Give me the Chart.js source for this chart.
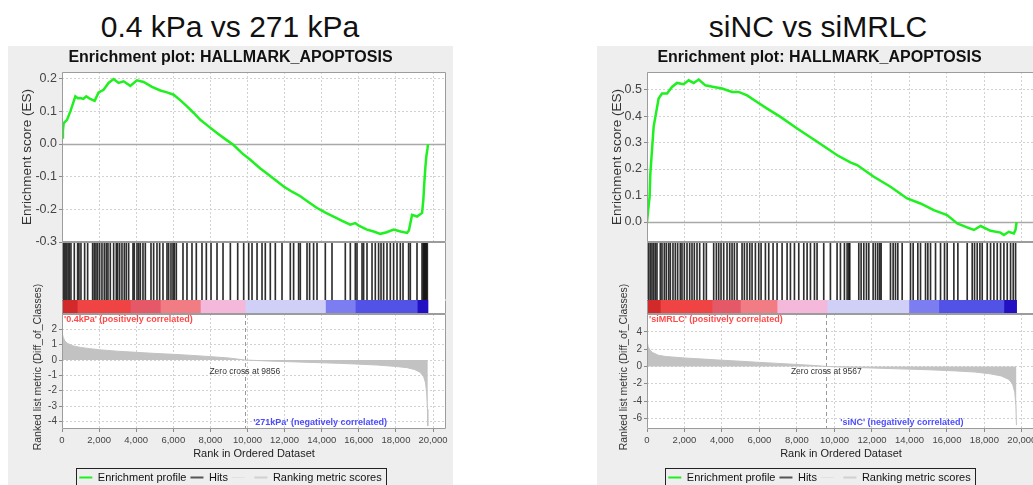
<!DOCTYPE html>
<html>
<head>
<meta charset="utf-8">
<title>HALLMARK_APOPTOSIS enrichment plots</title>
<script src="https://cdn.jsdelivr.net/npm/chart.js@4.4.1/dist/chart.umd.min.js"></script>
<style>
  html, body { margin: 0; padding: 0; width: 1033px; height: 485px; overflow: hidden; background: #ffffff; }
  .heading { position: absolute; top: 7px; width: 460px; text-align: center; font: 30px "Liberation Sans", Arial, sans-serif; color: #111; line-height: 40px; }
  .panel { position: absolute; background: #eeeeee; }
  canvas { position: absolute; }
</style>
</head>
<body>
<div class="heading" style="left:0px">0.4 kPa vs 271 kPa</div>
<div class="heading" style="left:588px">siNC vs siMRLC</div>
<div class="panel" style="left:8px;top:46px;width:445px;height:439px"></div>
<div class="panel" style="left:597px;top:46px;width:436px;height:439px"></div>
<canvas id="esA"></canvas><canvas id="hitsA"></canvas><canvas id="bandA"></canvas><canvas id="metricA"></canvas>
<canvas id="esB"></canvas><canvas id="hitsB"></canvas><canvas id="bandB"></canvas><canvas id="metricB"></canvas>
<script>
const FONT = '"Liberation Sans", Arial, sans-serif';

// ---------- shared rank axis ----------
const rankTicks = [0, 2000, 4000, 6000, 8000, 10000, 12000, 14000, 16000, 18000, 20000];
const rankEnd = 20700;

// ---------- 0.4 kPa vs 271 kPa ----------
const esRankA = [0, 50, 90, 270, 450, 600, 720, 850, 990, 1150, 1310, 1525, 1760, 1975, 2240, 2510, 2780, 3050, 3320, 3680,
  4040, 4400, 4850, 5300, 5660, 6020, 6400, 6740, 7100, 7455, 7900, 8355, 8800, 9250, 9700, 10150, 10690, 11050, 11500, 11950,
  12400, 12850, 13300, 13750, 14200, 14640, 15100, 15540, 15810, 16000, 16440, 16800, 17160, 17500, 17880, 18250, 18600, 18700,
  18870, 19140, 19410, 19480, 19530, 19590, 19640, 19700, 19730];
const esScoreA = [0.02, 0.04, 0.064, 0.074, 0.10, 0.125, 0.146, 0.14, 0.141, 0.138, 0.146, 0.138, 0.132, 0.158, 0.166, 0.187, 0.199, 0.187, 0.192, 0.178,
  0.195, 0.19, 0.175, 0.164, 0.158, 0.151, 0.133, 0.115, 0.095, 0.074, 0.054, 0.034, 0.015, -0.003, -0.028, -0.048, -0.075, -0.09, -0.11, -0.13,
  -0.146, -0.16, -0.178, -0.196, -0.21, -0.222, -0.235, -0.247, -0.242, -0.25, -0.262, -0.268, -0.275, -0.27, -0.262, -0.268, -0.272, -0.265,
  -0.217, -0.222, -0.211, -0.17, -0.12, -0.07, -0.038, -0.015, 0.0];
const hitRankA = [88, 160, 232, 322, 394, 483, 663, 843, 915, 1022, 1220, 1382, 1651, 1741, 1831, 1921, 2029, 2154, 2280, 2388,
  2478, 2604, 2784, 2927, 2999, 3107, 3233, 3359, 3467, 3592, 3826, 3898, 4042, 4132, 4222, 4365, 4491, 4797, 4940, 5120,
  5264, 5444, 5659, 5749, 5875, 5983, 6054, 6162, 6522, 6737, 7007, 7240, 7546, 7780, 8033, 8356, 8680, 9075, 9471, 9794,
  10064, 10243, 10514, 10782, 10959, 11229, 11499, 11860, 12307, 12485, 12755, 12846, 13208, 13348, 13563, 13747, 14194, 14555,
  15272, 15542, 15811, 15903, 16173, 16259, 16442, 16712, 16889, 17067, 17197, 17337, 17520, 17698, 17876, 18059, 18237, 18383,
  18685, 18776, 19137, 19407, 19477, 19531, 19585, 19639, 19693];
const metricRankA = [0, 20, 60, 150, 300, 600, 1000, 1500, 2000, 3000, 4000, 5000, 6000, 7000, 8000, 9000, 9856,
  11000, 12000, 13000, 14000, 15000, 16000, 17000, 18000, 18600, 19000, 19300, 19500, 19600, 19660, 19700, 19720];
const metricValueA = [2.1, 1.75, 1.5, 1.25, 1.08, 0.92, 0.82, 0.74, 0.67, 0.57, 0.5, 0.43, 0.37, 0.3, 0.22, 0.13, 0,
  -0.06, -0.1, -0.14, -0.18, -0.22, -0.27, -0.33, -0.42, -0.5, -0.62, -0.8, -1.1, -1.5, -2.2, -3.2, -4.3];
const bandEdgeA = [0, 820, 3680, 5300, 7460, 9880, 14200, 15810, 19150, 19730];
const esTickA = [-0.3, -0.2, -0.1, 0, 0.1, 0.2];
const metricTickA = [-4, -3, -2, -1, 0, 1, 2];
const zeroCrossA = 9856;

// ---------- siNC vs siMRLC ----------
const esRankB = [0, 100, 140, 175, 265, 355, 480, 620, 800, 1070, 1335, 1600, 1955, 2225, 2490, 2760, 3115, 3560, 4005, 4540,
  4890, 5340, 5870, 6410, 7120, 8010, 9080, 10150, 10850, 11210, 12100, 12990, 13880, 14590, 15300, 16010, 16550, 17080,
  17440, 17800, 18330, 18860, 19040, 19300, 19570, 19660, 19720];
const esScoreB = [0.0, 0.07, 0.095, 0.18, 0.27, 0.36, 0.41, 0.466, 0.485, 0.485, 0.51, 0.525, 0.52, 0.535, 0.525, 0.538, 0.516, 0.51, 0.504, 0.491,
  0.491, 0.478, 0.453, 0.428, 0.397, 0.353, 0.303, 0.252, 0.225, 0.215, 0.171, 0.133, 0.089, 0.07, 0.045, 0.026, -0.005, -0.02,
  -0.03, -0.015, -0.033, -0.04, -0.049, -0.037, -0.043, -0.03, 0.0];
const hitRankB = [87, 176, 265, 354, 443, 532, 710, 799, 924, 1030, 1155, 1244, 1386, 1511, 1635, 1777, 1866, 1991, 2134, 2276,
  2401, 2525, 2668, 2810, 3024, 3166, 3558, 3700, 3825, 3949, 4092, 4270, 4412, 4537, 4662, 4804, 5071, 5196, 5338, 5481,
  5605, 5783, 5961, 6086, 6317, 6495, 6726, 6940, 7207, 7474, 7652, 7866, 8097, 8364, 8542, 8720, 8934, 9073, 9429, 9785,
  10141, 10319, 10533, 10676, 10764, 10818, 11299, 11423, 11566, 11708, 11833, 12064, 12189, 12313, 12420, 12491, 12990, 13132,
  13257, 13381, 13613, 14058, 14200, 14449, 14592, 14859, 14983, 15126, 15393, 15660, 15873, 16015, 16371, 16585, 17083, 17350,
  17475, 17617, 17760, 17884, 18151, 18329, 18507, 18685, 18863, 19041, 19219, 19397, 19540, 19664];
const metricRankB = [0, 20, 60, 150, 300, 600, 1000, 2000, 3000, 4000, 5000, 6000, 7000, 8000, 9000, 9567,
  10500, 12000, 13500, 15000, 16500, 17500, 18300, 18900, 19300, 19500, 19620, 19680, 19710];
const metricValueB = [3.6, 2.8, 2.3, 1.9, 1.6, 1.3, 1.15, 0.98, 0.85, 0.72, 0.6, 0.47, 0.35, 0.23, 0.1, 0,
  -0.07, -0.18, -0.28, -0.38, -0.52, -0.65, -0.85, -1.1, -1.5, -2.0, -3.0, -4.5, -6.8];
const bandEdgeB = [0, 710, 3470, 4980, 6940, 9610, 13970, 15570, 19040, 19720];
const esTickB = [0, 0.1, 0.2, 0.3, 0.4, 0.5];
const metricTickB = [-6, -4, -2, 0, 2, 4];
const zeroCrossB = 9567;

// colour bar shades, from the positive (red) end to the negative (blue) end
const bandShades = ['#d22a2a', '#f04343', '#e55868', '#f27c84', '#f4b8da', '#cfcff8', '#7d7df2', '#5252e6', '#2210c2'];
const esGreen = '#1ff01f';

// ---------- helpers ----------
function canvasAt(id, left, top, width, height) {
  const c = document.getElementById(id);
  c.width = width; c.height = height;
  c.style.left = left + 'px'; c.style.top = top + 'px';
  c.style.width = width + 'px'; c.style.height = height + 'px';
  return c;
}
const zip = (xs, ys) => xs.map((x, i) => ({ x, y: ys[i] }));
const fixedTicks = vals => s => { s.ticks = vals.map(v => ({ value: v })); };

// white plot background and grey frame around the chart area
const plotFrame = {
  id: 'plotFrame',
  beforeDraw(chart) {
    const { ctx, chartArea: a } = chart;
    ctx.save();
    ctx.fillStyle = '#ffffff';
    ctx.fillRect(a.left, a.top, a.right - a.left, a.bottom - a.top);
    ctx.restore();
  },
  afterDraw(chart, args, opts) {
    const { ctx, chartArea: a } = chart;
    const sides = opts.sides || 'trbl';
    const l = Math.round(a.left) + 0.5, r = Math.round(a.right) - 0.5;
    const t = Math.round(a.top) + 0.5, b = Math.round(a.bottom) - 0.5;
    ctx.save();
    ctx.strokeStyle = '#9c9c9c';
    ctx.lineWidth = 1;
    ctx.beginPath();
    if (sides.includes('t')) { ctx.moveTo(l, t); ctx.lineTo(r, t); }
    if (sides.includes('r')) { ctx.moveTo(r, t); ctx.lineTo(r, b); }
    if (sides.includes('b')) { ctx.moveTo(l, b); ctx.lineTo(r, b); }
    if (sides.includes('l')) { ctx.moveTo(l, t); ctx.lineTo(l, b); }
    ctx.stroke();
    ctx.restore();
  }
};

// solid reference line at ES = 0
const zeroLine = {
  id: 'zeroLine',
  beforeDatasetsDraw(chart) {
    const { ctx, chartArea: a, scales: { y } } = chart;
    const py = Math.round(y.getPixelForValue(0)) + 0.5;
    ctx.save();
    ctx.strokeStyle = '#a8a8a8';
    ctx.lineWidth = 1.5;
    ctx.beginPath(); ctx.moveTo(a.left, py); ctx.lineTo(a.right, py); ctx.stroke();
    ctx.restore();
  }
};

// zero-cross marker, phenotype captions and the long axis caption of the ranked list
const gseaNotes = {
  id: 'gseaNotes',
  beforeDatasetsDraw(chart, args, o) {
    const { ctx, chartArea: a, scales: { x } } = chart;
    const px = Math.round(x.getPixelForValue(o.zeroCross)) + 0.5;
    ctx.save();
    ctx.strokeStyle = '#9a9a9a';
    ctx.setLineDash([4, 3]);
    ctx.lineWidth = 1;
    ctx.beginPath(); ctx.moveTo(px, a.top); ctx.lineTo(px, a.bottom); ctx.stroke();
    ctx.restore();
  },
  afterDraw(chart, args, o) {
    const { ctx, chartArea: a, scales: { x } } = chart;
    ctx.save();
    ctx.textBaseline = 'middle';
    ctx.font = 'bold 9px ' + FONT;
    ctx.fillStyle = '#ff4a4a';
    ctx.textAlign = 'left';
    ctx.fillText(o.posText, a.left + 2, a.top + 6);
    ctx.fillStyle = '#4c4cff';
    ctx.textAlign = 'center';
    ctx.fillText(o.negText, a.left + (a.right - a.left) * o.negAt, a.bottom - 6);
    ctx.font = '8.5px ' + FONT;
    ctx.fillStyle = '#333';
    ctx.fillText('Zero cross at ' + o.zeroCross, x.getPixelForValue(o.zeroCross), (a.top + a.bottom) / 2 + 0.5);
    // the caption is longer than the panel, so it is drawn outside the scale box
    ctx.translate(o.captionX, (a.top + a.bottom) / 2 - 4.5);
    ctx.rotate(-Math.PI / 2);
    ctx.font = '10.5px ' + FONT;
    ctx.fillStyle = '#333';
    ctx.fillText(o.caption, 0, 0);
    ctx.restore();
  }
};

// black outline around the legend row
const legendFrame = {
  id: 'legendFrame',
  afterDraw(chart) {
    const boxes = chart.legend && chart.legend.legendHitBoxes;
    if (!boxes || !boxes.length) return;
    const ctx = chart.ctx;
    const l = Math.min(...boxes.map(b => b.left)) - 3;
    const r = Math.max(...boxes.map(b => b.left + b.width)) + 5;
    const t = Math.min(...boxes.map(b => b.top)) - 4.5;
    ctx.save();
    ctx.strokeStyle = '#222';
    ctx.lineWidth = 1;
    ctx.strokeRect(Math.round(l) + 0.5, Math.round(t) + 0.5, Math.round(r - l), 40);
    ctx.restore();
  }
};

const legendEntries = [
  { text: 'Enrichment profile', strokeStyle: esGreen, fillStyle: esGreen, lineWidth: 2, pointStyle: 'line', fontColor: '#111', hidden: false, datasetIndex: 0 },
  { text: 'Hits', strokeStyle: '#555555', fillStyle: '#555555', lineWidth: 2, pointStyle: 'line', fontColor: '#111', hidden: false, datasetIndex: 0 },
  { text: '', strokeStyle: '#e2e2e2', fillStyle: '#e2e2e2', lineWidth: 1, pointStyle: 'line', fontColor: '#111', hidden: false, datasetIndex: 0 },
  { text: 'Ranking metric scores', strokeStyle: '#d0d0d0', fillStyle: '#d0d0d0', lineWidth: 2, pointStyle: 'line', fontColor: '#111', hidden: false, datasetIndex: 0 }
];

function rankAxis(labels, height, extra) {
  return Object.assign({
    type: 'linear', min: 0, max: rankEnd, offset: false,
    afterBuildTicks: fixedTicks(rankTicks),
    afterFit: s => { s.height = height; s.paddingLeft = 0; s.paddingRight = 0; },
    grid: { color: '#d2d2d2', lineWidth: 1, drawTicks: labels, tickLength: 3, tickColor: '#8a8a8a', offset: false },
    border: { display: false, dash: [2, 2] },
    ticks: { display: labels, autoSkip: false, maxRotation: 0, padding: 3, color: '#444',
      font: { family: FONT, size: 9.5 }, callback: v => v.toLocaleString('en-US') }
  }, extra || {});
}
// narrow empty axis on the right so the title and legend stay centred on the panel
const padAxis = () => ({
  type: 'linear', position: 'right', display: true,
  grid: { display: false, drawTicks: false }, border: { display: false }, ticks: { display: false },
  afterFit: s => { s.width = 7; }
});
function valueAxis(ticks, min, max, width, tickFont, fmt, title) {
  return {
    type: 'linear', position: 'left', min, max,
    afterBuildTicks: fixedTicks(ticks),
    afterFit: s => { s.width = width; s.paddingTop = 0; s.paddingBottom = 0; },
    grid: { color: '#d2d2d2', lineWidth: 1, drawTicks: true, tickLength: 3, tickColor: '#8a8a8a' },
    border: { display: false, dash: [2, 2] },
    ticks: { autoSkip: false, padding: 2, color: '#444', font: { family: FONT, size: tickFont }, callback: fmt },
    title: title || { display: false }
  };
}
const baseOpts = { responsive: false, animation: false, devicePixelRatio: 1, events: [] };

function drawEnrichment(id, left, axisW, ranks, scores, ticks, min, max, titlePad) {
  return new Chart(canvasAt(id, left, 46, 445, 204), {
    type: 'line',
    data: { datasets: [{ label: 'Enrichment profile', data: zip(ranks, scores), borderColor: esGreen, borderWidth: 2.5,
      pointRadius: 0, tension: 0, fill: false }] },
    options: Object.assign({}, baseOpts, {
      layout: { padding: 0 },
      plugins: {
        legend: { display: false }, tooltip: { enabled: false },
        title: { display: true, text: 'Enrichment plot: HALLMARK_APOPTOSIS', color: '#111',
          font: { family: FONT, size: 16, weight: 'bold', lineHeight: 1 }, padding: { top: 4, bottom: 6 } },
        plotFrame: {}
      },
      scales: {
        x: rankAxis(false, 8),
        y: valueAxis(ticks, min, max, axisW, 12.5, v => v.toFixed(1), {
          display: true, text: 'Enrichment score (ES)', color: '#333',
          font: { family: FONT, size: 13.5 }, padding: { top: titlePad, bottom: 0 } }),
        pad: padAxis()
      }
    }),
    plugins: [plotFrame, zeroLine]
  });
}

function drawHits(id, left, width, hits) {
  return new Chart(canvasAt(id, left, 242, width, 58), {
    type: 'bar',
    data: { datasets: [{ label: 'Hits', data: hits.map(r => ({ x: r, y: 1 })), backgroundColor: 'rgba(0,0,0,0.82)',
      borderWidth: 0, barThickness: 1 }] },
    options: Object.assign({}, baseOpts, {
      layout: { padding: 0 },
      plugins: { legend: { display: false }, tooltip: { enabled: false }, plotFrame: { sides: 'tlr' } },
      scales: {
        x: { type: 'linear', min: 0, max: rankEnd, offset: false, display: false },
        y: { type: 'linear', min: 0, max: 1, display: false }
      }
    }),
    plugins: [plotFrame]
  });
}

function drawBand(id, left, width, edges) {
  return new Chart(canvasAt(id, left, 300, width, 14), {
    type: 'bar',
    data: { labels: [''], datasets: bandShades.map((shade, i) => ({
      data: [[edges[i], edges[i + 1]]], backgroundColor: shade, borderWidth: 0,
      grouped: false, barPercentage: 1, categoryPercentage: 1 })) },
    options: Object.assign({}, baseOpts, {
      indexAxis: 'y',
      layout: { padding: 0 },
      plugins: { legend: { display: false }, tooltip: { enabled: false }, plotFrame: { sides: 'lrb' } },
      scales: {
        x: { type: 'linear', min: 0, max: rankEnd, display: false },
        y: { display: false }
      }
    }),
    plugins: [plotFrame]
  });
}

// the canvas starts 34px above the ranked panel to leave room for its long caption
function drawMetric(id, left, axisW, ranks, values, ticks, min, max, notes) {
  return new Chart(canvasAt(id, left, 280, 445, 213), {
    type: 'line',
    data: { datasets: [{ label: 'Ranking metric scores', data: zip(ranks, values), borderColor: '#c2c2c2',
      borderWidth: 1, backgroundColor: '#c2c2c2', fill: 'origin', pointRadius: 0, tension: 0 }] },
    options: Object.assign({}, baseOpts, {
      layout: { padding: { top: 34, left: 0, right: 0, bottom: 0 } },
      plugins: {
        legend: { display: true, position: 'bottom',
          labels: { usePointStyle: true, pointStyleWidth: 13, padding: 4, color: '#111',
            font: { family: FONT, size: 11 }, generateLabels: () => legendEntries } },
        tooltip: { enabled: false },
        plotFrame: {},
        gseaNotes: notes
      },
      scales: {
        x: rankAxis(true, 39, { title: { display: true, text: 'Rank in Ordered Dataset', color: '#222',
          font: { family: FONT, size: 11 }, padding: { top: 0, bottom: 7.4 } } }),
        y: valueAxis(ticks, min, max, axisW, 10, v => String(v)),
        pad: padAxis()
      }
    }),
    plugins: [plotFrame, gseaNotes, legendFrame]
  });
}

// left panel: 0.4 kPa vs 271 kPa
drawEnrichment('esA', 8, 54, esRankA, esScoreA, esTickA, -0.3, 0.2205, 11);
drawHits('hitsA', 62, 384, hitRankA);
drawBand('bandA', 62, 384, bandEdgeA);
drawMetric('metricA', 8, 54, metricRankA, metricValueA, metricTickA, -4.5, 3.0, {
  zeroCross: zeroCrossA, posText: "'0.4kPa' (positively correlated)",
  negText: "'271kPa' (negatively correlated)", negAt: 0.672,
  caption: 'Ranked list metric (Diff_of_Classes)', captionX: 30.5 });

// right panel: siNC vs siMRLC
drawEnrichment('esB', 597, 50, esRankB, esScoreB, esTickB, -0.0754, 0.5663, 12);
drawHits('hitsB', 647, 388, hitRankB);
drawBand('bandB', 647, 388, bandEdgeB);
drawMetric('metricB', 597, 50, metricRankB, metricValueB, metricTickB, -7.24, 6.07, {
  zeroCross: zeroCrossB, posText: "'siMRLC' (positively correlated)",
  negText: "'siNC' (negatively correlated)", negAt: 0.657,
  caption: 'Ranked list metric (Diff_of_Classes)', captionX: 27.5 });
</script>
</body>
</html>
